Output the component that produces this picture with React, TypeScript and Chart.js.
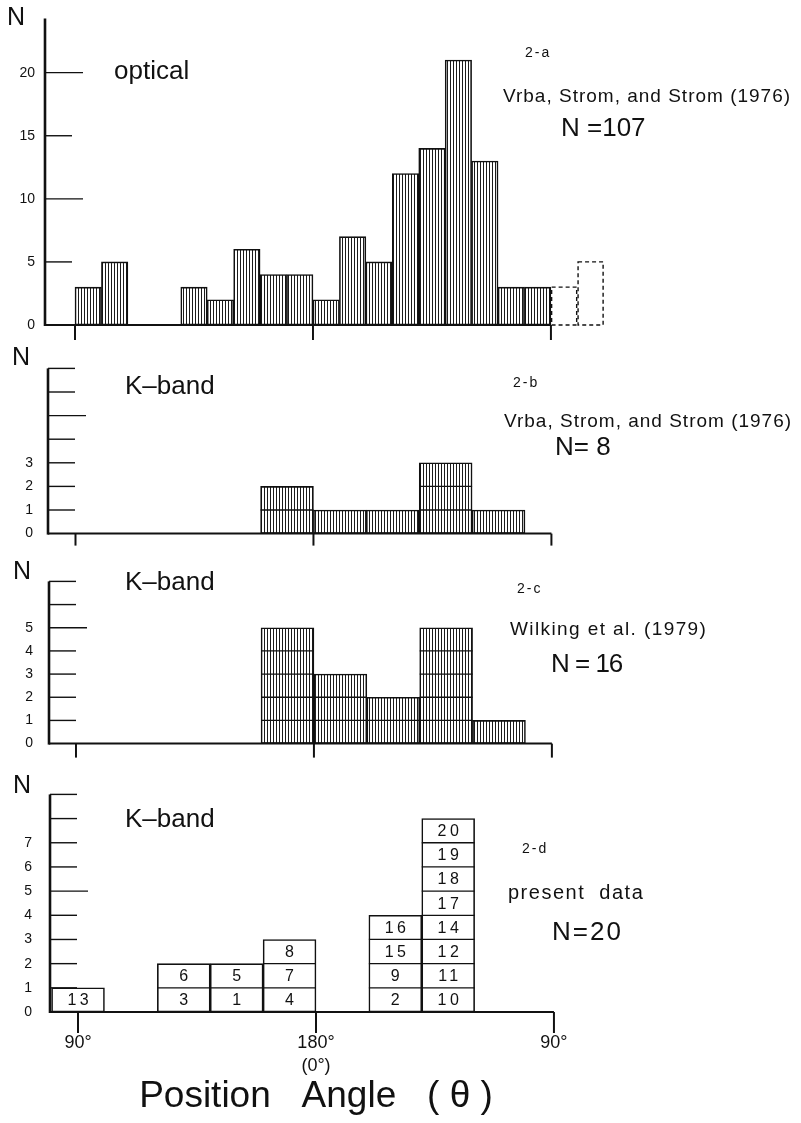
import React, { useEffect, useRef } from "react";
import { Chart, registerables } from "chart.js";

Chart.register(...registerables);

// ---------------- data ----------------
// bin start angles (deg); the axis runs 90° -> 180° (0°) -> 90° (=270°)
const bins10 = [80, 90, 100, 110, 120, 130, 140, 150, 160, 170, 180, 190, 200, 210, 220, 230, 240, 250, 260, 270, 280, 290];
const bins20 = [80, 100, 120, 140, 160, 180, 200, 220, 240, 260, 280];

// 2-a optical, Vrba, Strom and Strom (1976), N = 107
const opticalCounts = [0, 3, 5, 0, 0, 3, 2, 6, 4, 4, 2, 7, 5, 12, 14, 21, 13, 3, 3, 0, 0, 0];
// dashed repetition of the first bins beyond 270°
const opticalRepeat = [0, 0, 0, 0, 0, 0, 0, 0, 0, 0, 0, 0, 0, 0, 0, 0, 0, 0, 0, 3, 5, 0];

// 2-b K-band, Vrba, Strom and Strom (1976), N = 8
const kbandVrba = [0, 0, 0, 0, 2, 1, 1, 3, 1, 0, 0];
// 2-c K-band, Wilking et al. (1979), N = 16
const kbandWilking = [0, 0, 0, 0, 5, 3, 2, 5, 1, 0, 0];
// 2-d K-band, present data, N = 20
const kbandPresent = [1, 0, 2, 2, 3, 0, 4, 8, 0, 0, 0];
const presentIds = [
  ["13"], [], ["3", "6"], ["1", "5"], ["4", "7", "8"], [],
  ["2", "9", "15", "16"], ["10", "11", "12", "14", "17", "18", "19", "20"], [], [], [],
];

const xTickValues = [90, 180, 270];
const xTickLabels: (string | string[])[] = ["90°", ["180°", "(0°)"], "90°"];

const yLabelsA = [0, 5, 10, 15, 20];
const yMarksA = [5, 10, 15, 20];
const yLongA = [10, 20];
const yLabelsB = [0, 1, 2, 3];
const yLabelsC = [0, 1, 2, 3, 4, 5];
const yLabelsD = [0, 1, 2, 3, 4, 5, 6, 7];
const yMarksBC = [1, 2, 3, 4, 5, 6, 7];
const yMarksD = [1, 2, 3, 4, 5, 6, 7, 8, 9];
const yLongBCD = [5];

// ---------------- layout ----------------
const X_MAX = 300;
const PX_PER_DEG = 2.644;
const FONT = '"Liberation Sans", Arial, sans-serif';

type Note = { text: string; x: number; y: number; size: number; spacing?: number; align?: CanvasTextAlign };

type PanelSpec = {
  top: number; height: number; padTop: number; xAxisHeight: number;
  yAxisWidth: number; xMin: number; labelPad: number;
  bins: number[]; binWidth: number; counts: number[]; repeat?: number[];
  fill: "hatch" | "white"; cells: boolean; ids?: string[][];
  yMax: number; yLabels: number[]; yMarks: number[]; yLong: number[];
  xTickLen: number; showXLabels: boolean;
  nPos: [number, number];
  notes: Note[];
};

const panels: PanelSpec[] = [
  {
    top: 0, height: 345, padTop: 9, xAxisHeight: 20, yAxisWidth: 45, xMin: 78.65, labelPad: 10,
    bins: bins10, binWidth: 10, counts: opticalCounts, repeat: opticalRepeat,
    fill: "hatch", cells: false, yMax: 24.3, yLabels: yLabelsA, yMarks: yMarksA, yLong: yLongA,
    xTickLen: 15, showXLabels: false, nPos: [16, 18],
    notes: [
      { text: "optical", x: 114, y: 72, size: 26 },
      { text: "2-a", x: 525, y: 53, size: 14, spacing: 2 },
      { text: "Vrba, Strom, and Strom (1976)", x: 503, y: 97, size: 19, spacing: 1 },
      { text: "N =107", x: 561, y: 129, size: 26 },
    ],
  },
  {
    top: 345, height: 212, padTop: 8, xAxisHeight: 20, yAxisWidth: 48, xMin: 79.6, labelPad: 15,
    bins: bins20, binWidth: 20, counts: kbandVrba,
    fill: "hatch", cells: true, yMax: 7, yLabels: yLabelsB, yMarks: yMarksBC, yLong: yLongBCD,
    xTickLen: 12, showXLabels: false, nPos: [21, 13],
    notes: [
      { text: "K–band", x: 125, y: 42, size: 26 },
      { text: "2-b", x: 513, y: 38, size: 14, spacing: 2 },
      { text: "Vrba, Strom, and Strom (1976)", x: 504, y: 77, size: 19, spacing: 1 },
      { text: "N= 8", x: 555, y: 103, size: 26 },
    ],
  },
  {
    top: 557, height: 211, padTop: 7, xAxisHeight: 20, yAxisWidth: 49, xMin: 79.8, labelPad: 16,
    bins: bins20, binWidth: 20, counts: kbandWilking,
    fill: "hatch", cells: true, yMax: 7, yLabels: yLabelsC, yMarks: yMarksBC, yLong: yLongBCD,
    xTickLen: 14, showXLabels: false, nPos: [22, 15],
    notes: [
      { text: "K–band", x: 125, y: 26, size: 26 },
      { text: "2-c", x: 517, y: 32, size: 14, spacing: 2 },
      { text: "Wilking et al. (1979)", x: 510, y: 73, size: 19, spacing: 1.4 },
      { text: "N = 16", x: 551, y: 108, size: 26, spacing: -1 },
    ],
  },
  {
    top: 768, height: 355, padTop: 10, xAxisHeight: 111, yAxisWidth: 50, xMin: 79.4, labelPad: 18,
    bins: bins20, binWidth: 20, counts: kbandPresent, ids: presentIds,
    fill: "white", cells: true, yMax: 9, yLabels: yLabelsD, yMarks: yMarksD, yLong: yLongBCD,
    xTickLen: 21, showXLabels: true, nPos: [22, 18],
    notes: [
      { text: "K–band", x: 125, y: 52, size: 26 },
      { text: "2-d", x: 522, y: 81, size: 14, spacing: 2 },
      { text: "present  data", x: 508, y: 125, size: 20, spacing: 1.5 },
      { text: "N=20", x: 552, y: 165, size: 26, spacing: 2 },
    ],
  },
];

const AXIS_TITLE = "Position   Angle   ( θ )";
const AXIS_TITLE_Y = 329;

function drawText(ctx: CanvasRenderingContext2D, text: string, x: number, y: number, size: number, spacing = 0, align: CanvasTextAlign = "left") {
  ctx.font = `${size}px ${FONT}`;
  ctx.textBaseline = "middle";
  ctx.textAlign = align;
  (ctx as any).letterSpacing = `${spacing}px`;
  ctx.fillStyle = "#111";
  ctx.fillText(text, x + (align === "center" ? spacing / 2 : 0), y);
  (ctx as any).letterSpacing = "0px";
}

function line(ctx: CanvasRenderingContext2D, x1: number, y1: number, x2: number, y2: number) {
  ctx.beginPath();
  ctx.moveTo(x1, y1);
  ctx.lineTo(x2, y2);
  ctx.stroke();
}

function makeHatch(): CanvasPattern | string {
  const c = document.createElement("canvas");
  c.width = 3;
  c.height = 4;
  const g = c.getContext("2d");
  if (!g) return "#777";
  g.fillStyle = "#ffffff";
  g.fillRect(0, 0, 3, 4);
  g.fillStyle = "#1c1c1c";
  g.fillRect(0, 0, 1, 4);
  return g.createPattern(c, "repeat") || "#777";
}

function Panel({ spec, isLast }: { spec: PanelSpec; isLast: boolean }) {
  const ref = useRef<HTMLCanvasElement>(null);
  useEffect(() => {
    const canvas = ref.current;
    if (!canvas) return;
    const hatch = makeHatch();
    const centers = spec.bins.map((b) => b + spec.binWidth / 2);
    const chartRight = spec.yAxisWidth + (X_MAX - spec.xMin) * PX_PER_DEG;
    const baseFill = spec.fill === "hatch" ? hatch : "#ffffff";

    const datasets: any[] = [
      {
        data: centers.map((x, i) => ({ x, y: spec.counts[i] })),
        backgroundColor: (c: any) => (spec.counts[c.dataIndex] > 0 ? baseFill : "rgba(0,0,0,0)"),
        borderColor: "#111",
        borderWidth: (c: any) => (spec.counts[c.dataIndex] > 0 ? 1.6 : 0),
        borderSkipped: false,
        barPercentage: 1,
        categoryPercentage: 1,
        grouped: false,
      },
    ];
    if (spec.repeat) {
      datasets.push({
        data: centers.map((x, i) => ({ x, y: spec.repeat![i] })),
        backgroundColor: "rgba(0,0,0,0)",
        borderWidth: 0,
        barPercentage: 1,
        categoryPercentage: 1,
        grouped: false,
      });
    }

    const decor = {
      id: "decor",
      afterDraw(chart: any) {
        const ctx: CanvasRenderingContext2D = chart.ctx;
        const ca = chart.chartArea;
        const xs = chart.scales.x;
        const ys = chart.scales.y;
        const y0 = ys.getPixelForValue(0);
        ctx.save();
        ctx.strokeStyle = "#111";
        ctx.lineCap = "butt";

        // unit cells and star numbers inside bars
        const meta = chart.getDatasetMeta(0);
        meta.data.forEach((el: any, i: number) => {
          const v = spec.counts[i];
          if (!v) return;
          const p = el.getProps(["x", "width"], true);
          const l = p.x - p.width / 2;
          const r = p.x + p.width / 2;
          if (spec.cells) {
            ctx.lineWidth = 1.3;
            for (let k = 1; k < v; k++) {
              const yy = ys.getPixelForValue(k);
              line(ctx, l, yy, r, yy);
            }
          }
          if (spec.ids && spec.ids[i]) {
            spec.ids[i].forEach((id, j) => {
              drawText(ctx, id, p.x, ys.getPixelForValue(j + 0.5) + 1, 16, id.length > 1 ? 3.5 : 0, "center");
            });
          }
        });

        // dashed repeated bins
        if (spec.repeat) {
          const meta2 = chart.getDatasetMeta(1);
          ctx.setLineDash([4, 3]);
          ctx.lineWidth = 1.4;
          meta2.data.forEach((el: any, i: number) => {
            if (!spec.repeat![i]) return;
            const p = el.getProps(["x", "y", "base", "width"], true);
            ctx.strokeRect(p.x - p.width / 2 + 0.7, p.y, p.width - 1.4, p.base - p.y);
          });
          ctx.setLineDash([]);
        }

        // y axis line
        ctx.lineWidth = 2.6;
        line(ctx, ca.left, y0 + 1, ca.left, ca.top);
        // baseline up to 270°
        ctx.lineWidth = 2;
        line(ctx, ca.left, y0, xs.getPixelForValue(270), y0);
        // y tick marks (inside the frame)
        ctx.lineWidth = 1.4;
        spec.yMarks.forEach((v) => {
          const yy = ys.getPixelForValue(v);
          const len = spec.yLong.includes(v) ? 38 : 27;
          line(ctx, ca.left, yy, ca.left + len, yy);
        });
        // x tick marks below
        ctx.lineWidth = 2;
        xTickValues.forEach((v) => {
          const xx = xs.getPixelForValue(v);
          line(ctx, xx, y0, xx, y0 + spec.xTickLen);
        });

        // "N" axis name
        drawText(ctx, "N", spec.nPos[0], spec.nPos[1], 25, 0, "center");
        // notes
        spec.notes.forEach((n) => drawText(ctx, n.text, n.x, n.y, n.size, n.spacing || 0, n.align || "left"));
        // axis title
        if (isLast) {
          drawText(ctx, AXIS_TITLE, xs.getPixelForValue(180), AXIS_TITLE_Y, 37, 0, "center");
        }
        ctx.restore();
      },
    };

    const chart = new Chart(canvas, {
      type: "bar",
      data: { datasets },
      options: {
        responsive: false,
        animation: false,
        events: [],
        layout: { padding: { top: spec.padTop, left: 0, bottom: 0, right: 801 - chartRight } },
        plugins: { legend: { display: false }, tooltip: { enabled: false }, title: { display: false } },
        scales: {
          x: {
            type: "linear",
            min: spec.xMin,
            max: X_MAX,
            offset: false,
            grid: { display: false, drawTicks: false, offset: false },
            border: { display: false },
            afterBuildTicks: (s: any) => {
              s.ticks = xTickValues.map((value) => ({ value }));
            },
            ticks: {
              display: spec.showXLabels,
              autoSkip: false,
              maxRotation: 0,
              padding: 19,
              color: "#111",
              font: { family: FONT, size: 18, lineHeight: 1.3 },
              callback: (_v: any, i: number) => xTickLabels[i],
            },
            afterFit: (s: any) => {
              s.height = spec.xAxisHeight;
            },
          },
          y: {
            type: "linear",
            min: 0,
            max: spec.yMax,
            grid: { display: false, drawTicks: false },
            border: { display: false },
            afterBuildTicks: (s: any) => {
              s.ticks = spec.yLabels.map((value) => ({ value }));
            },
            ticks: {
              autoSkip: false,
              padding: spec.labelPad,
              color: "#111",
              font: { family: FONT, size: 14 },
              callback: (v: any) => String(v),
            },
            afterFit: (s: any) => {
              s.width = spec.yAxisWidth;
            },
          },
        },
      } as any,
      plugins: [decor],
    });
    return () => chart.destroy();
  }, [spec, isLast]);

  return (
    <canvas
      ref={ref}
      width={801}
      height={spec.height}
      style={{ position: "absolute", left: 0, top: spec.top, display: "block" }}
    />
  );
}

export default function App() {
  return (
    <div style={{ position: "absolute", left: 0, top: 0, width: 801, height: 1123, background: "#ffffff", overflow: "hidden" }}>
      {panels.map((p, i) => (
        <Panel key={i} spec={p} isLast={i === panels.length - 1} />
      ))}
    </div>
  );
}
